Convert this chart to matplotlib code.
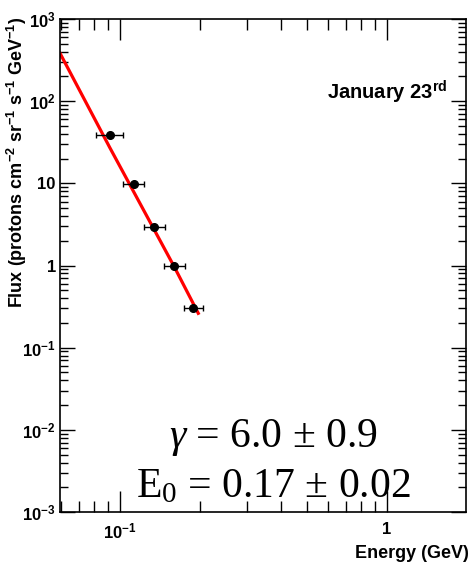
import numpy as np
import matplotlib.pyplot as plt
from matplotlib.ticker import FixedLocator, NullFormatter

plt.rcParams['font.family'] = ['Liberation Sans', 'DejaVu Sans']
plt.rcParams['mathtext.fontset'] = 'custom'
plt.rcParams['mathtext.rm'] = 'Liberation Serif'
plt.rcParams['mathtext.it'] = 'Liberation Serif:italic'
plt.rcParams['mathtext.sf'] = 'Liberation Sans:bold'
plt.rcParams['mathtext.bf'] = 'Liberation Sans:bold'

# measured points (GeV, protons cm^-2 sr^-1 s^-1 GeV^-1)
energy = [0.0917, 0.1131, 0.134, 0.1593, 0.188]
energy_lo = [0.0815, 0.1023, 0.1230, 0.1461, 0.1741]
energy_hi = [0.1029, 0.1233, 0.1470, 0.1746, 0.2049]
flux = [39.0, 9.8, 2.96, 1.0, 0.30]

# fitted spectrum
fit_energy = [0.0596, 0.0917, 0.1593, 0.1965]
fit_flux = [383.0, 27.0, 0.98, 0.262]

ytick_vals = [1e-3, 1e-2, 1e-1, 1, 10, 1e2, 1e3]
ytick_labels = [r'$\mathsf{10^{-3}}$', r'$\mathsf{10^{-2}}$', r'$\mathsf{10^{-1}}$',
                '1', '10', r'$\mathsf{10^{2}}$', r'$\mathsf{10^{3}}$']
xtick_vals = [0.1, 1]
xtick_labels = [r'$\mathsf{10^{-1}}$', '1']

fig = plt.figure(figsize=(4.7, 5.64), dpi=100)
ax = fig.add_axes([0.1277, 0.0922, 0.8638, 0.8741])
ax.set_xscale('log')
ax.set_yscale('log')
ax.set_xlim(0.0596, 1.98)
ax.set_ylim(1e-3, 1e3)

ax.plot(fit_energy, fit_flux, color='red', lw=2.3, zorder=2)
xerr = [np.array(energy) - np.array(energy_lo), np.array(energy_hi) - np.array(energy)]
ax.errorbar(energy, flux, xerr=xerr, fmt='o', color='black', ms=5.5,
            elinewidth=1, capsize=2.5, capthick=1, zorder=3)

ax.set_yticks(ytick_vals)
ax.set_yticklabels(ytick_labels, fontsize=12, fontweight='bold')
ax.set_xticks(xtick_vals)
ax.set_xticklabels(xtick_labels, fontsize=12, fontweight='bold')
yminor = [m * 10.0 ** e for e in range(-3, 3) for m in range(2, 10)]
xminor = [m * 10.0 ** e for e in range(-2, 1) for m in range(2, 10)]
ax.yaxis.set_minor_locator(FixedLocator(yminor))
ax.xaxis.set_minor_locator(FixedLocator(xminor))
ax.yaxis.set_minor_formatter(NullFormatter())
ax.xaxis.set_minor_formatter(NullFormatter())
ax.tick_params(which='both', direction='in', top=True, right=True, width=1)
ax.tick_params(axis='y', which='major', length=11, pad=3)
ax.tick_params(axis='y', which='minor', length=6)
ax.tick_params(axis='x', which='major', length=15, pad=7)
ax.tick_params(axis='x', which='minor', length=8)
for s in ax.spines.values():
    s.set_linewidth(1.2)

fig.text(17 / 470, 1 - 17 / 564,
         r'Flux (protons cm$\mathsf{^{-2}}$ sr$\mathsf{^{-1}}$ s$\mathsf{^{-1}}$ GeV$\mathsf{^{-1}}$)',
         rotation=90, ha='center', va='top', fontsize=13, fontweight='bold')
fig.text(469 / 470, 1 - 562 / 564, 'Energy (GeV)', ha='right', va='bottom',
         fontsize=13, fontweight='bold')

fig.text(327 / 470, 1 - 92 / 564, r'January 23$\mathsf{^{rd}}$',
         ha='left', va='center', fontsize=14.5, fontweight='bold')

ax.text(0.525, 0.152, r'$\gamma$ = 6.0 $\pm$ 0.9', transform=ax.transAxes,
        ha='center', va='center', fontsize=30, family='Liberation Serif')
ax.text(0.525, 0.050, r'E$_{0}$ = 0.17 $\pm$ 0.02', transform=ax.transAxes,
        ha='center', va='center', fontsize=30, family='Liberation Serif')

fig.savefig('out.png', dpi=100)
